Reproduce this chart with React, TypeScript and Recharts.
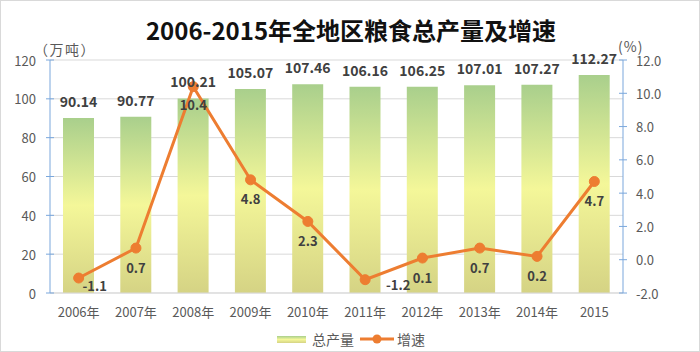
import { Bar, CartesianGrid, ComposedChart, LabelList, Legend, Line, XAxis, YAxis } from 'recharts'

const years = ['2006年', '2007年', '2008年', '2009年', '2010年', '2011年', '2012年', '2013年', '2014年', '2015']
const output = [90.14, 90.77, 100.21, 105.07, 107.46, 106.16, 106.25, 107.01, 107.27, 112.27]
const growth = [-1.1, 0.7, 10.4, 4.8, 2.3, -1.2, 0.1, 0.7, 0.2, 4.7]
const outputTicks = [0, 20, 40, 60, 80, 100, 120]
const growthTicks = [-2, 0, 2, 4, 6, 8, 10, 12]

// where each growth label sits relative to its point (dx, dy)
const growthLabelShift: [number, number][] = [
  [16, 7], [0, 19], [0, 18], [0, 19], [0, 19], [33, 5], [0, 19], [0, 19], [0, 19], [0, 19],
]

const data = years.map((year, i) => ({ year, output: output[i], growth: growth[i] }))

const axisBlue = '#7aa7dc'
const orange = '#ed7d31'
const labelGray = '#595959'
const font = '"Noto Sans CJK SC", "Noto Sans", sans-serif'

function AxisTick(props: any) {
  const { x, y, payload, side } = props
  const right = side === 'right'
  const text = right ? Number(payload.value).toFixed(1) : String(payload.value)
  return (
    <g>
      <line x1={x - 4} x2={x + 4} y1={y} y2={y} stroke={axisBlue} />
      <text
        x={right ? x + 13 : x - 14}
        y={y}
        textAnchor={right ? 'start' : 'end'}
        dominantBaseline="central"
        fill={labelGray}
        fontSize={13}
      >
        {text}
      </text>
    </g>
  )
}

function BarValue(props: any) {
  const { x, y, width, value } = props
  return (
    <text
      x={x + width / 2}
      y={y - 17}
      textAnchor="middle"
      dominantBaseline="central"
      fill="#404040"
      fontSize={14}
      fontWeight="bold"
    >
      {Number(value).toFixed(2)}
    </text>
  )
}

function GrowthValue(props: any) {
  const { x, y, value, index } = props
  const [dx, dy] = growthLabelShift[index] ?? [0, 19]
  return (
    <text
      x={x + dx}
      y={y + dy}
      textAnchor="middle"
      dominantBaseline="central"
      fill="#404040"
      fontSize={13}
      fontWeight="bold"
    >
      {Number(value).toFixed(1)}
    </text>
  )
}

function LegendContent() {
  return (
    <div
      style={{
        display: 'flex',
        justifyContent: 'center',
        alignItems: 'center',
        fontSize: 14,
        color: labelGray,
        fontFamily: font,
      }}
    >
      <span
        style={{
          display: 'inline-block',
          width: 29,
          height: 7,
          marginRight: 6,
          background: 'linear-gradient(#a9cf8c, #f4f799 50%, #d5d384)',
        }}
      />
      <span>总产量</span>
      <svg width={34} height={12} style={{ marginLeft: 6, marginRight: 3 }}>
        <line x1={0} x2={34} y1={6} y2={6} stroke={orange} strokeWidth={3} />
        <circle cx={17} cy={6} r={4.5} fill={orange} />
      </svg>
      <span>增速</span>
    </div>
  )
}

export default function App() {
  return (
    <div
      style={{
        position: 'relative',
        width: 700,
        height: 352,
        fontFamily: font,
        background: '#fff',
        boxSizing: 'border-box',
        border: '1px solid #d9d9d9',
      }}
    >
      <style>{'body{margin:0}'}</style>
      <div
        style={{
          position: 'absolute',
          top: 14,
          left: 0,
          width: 700,
          textAlign: 'center',
          fontSize: 24,
          lineHeight: '30px',
          fontWeight: 'bold',
          color: '#111',
        }}
      >
        2006-2015年全地区粮食总产量及增速
      </div>
      <div
        style={{
          position: 'absolute',
          left: 33,
          top: 39,
          fontSize: 14,
          lineHeight: '18px',
          letterSpacing: 1.5,
          color: labelGray,
        }}
      >
        （万吨）
      </div>
      <div style={{ position: 'absolute', left: 617, top: 36, fontSize: 14, lineHeight: '18px', letterSpacing: 1, color: labelGray }}>
        (%)
      </div>
      <div style={{ position: 'absolute', left: 0, top: 0 }}>
        <ComposedChart
          width={700}
          height={352}
          data={data}
          margin={{ top: 59, right: 0, left: 0, bottom: 30 }}
          barCategoryGap={0}
        >
          <defs>
            <linearGradient id="barFill" x1="0" y1="0" x2="0" y2="1">
              <stop offset="0%" stopColor="#a9cf8c" />
              <stop offset="50%" stopColor="#f4f799" />
              <stop offset="100%" stopColor="#d5d384" />
            </linearGradient>
          </defs>
          <CartesianGrid yAxisId="left" stroke="#d9d9d9" vertical={false} />
          <XAxis
            dataKey="year"
            height={30}
            tickLine={false}
            tickMargin={9}
            axisLine={{ stroke: '#d9d9d9' }}
            tick={{ fill: labelGray, fontSize: 13 }}
            interval={0}
          />
          <YAxis
            yAxisId="left"
            width={49}
            domain={[0, 120]}
            ticks={outputTicks}
            tickLine={false}
            tickSize={0}
            tickMargin={0}
            axisLine={{ stroke: axisBlue }}
            tick={(p: any) => <AxisTick {...p} side="left" />}
          />
          <YAxis
            yAxisId="right"
            orientation="right"
            width={78}
            domain={[-2, 12]}
            ticks={growthTicks}
            tickLine={false}
            tickSize={0}
            tickMargin={0}
            axisLine={{ stroke: axisBlue }}
            tick={(p: any) => <AxisTick {...p} side="right" />}
          />
          <Legend verticalAlign="middle" align="center" wrapperStyle={{ top: 328, left: 0, width: 700 }} content={LegendContent} />
          <Bar yAxisId="left" dataKey="output" name="总产量" fill="url(#barFill)" barSize={31} isAnimationActive={false}>
            <LabelList dataKey="output" content={BarValue} />
          </Bar>
          <Line
            yAxisId="right"
            dataKey="growth"
            name="增速"
            type="linear"
            stroke={orange}
            strokeWidth={3}
            dot={{ r: 5, fill: orange, stroke: orange, strokeWidth: 1 }}
            activeDot={false}
            isAnimationActive={false}
          >
            <LabelList dataKey="growth" content={GrowthValue} />
          </Line>
        </ComposedChart>
      </div>
    </div>
  )
}
